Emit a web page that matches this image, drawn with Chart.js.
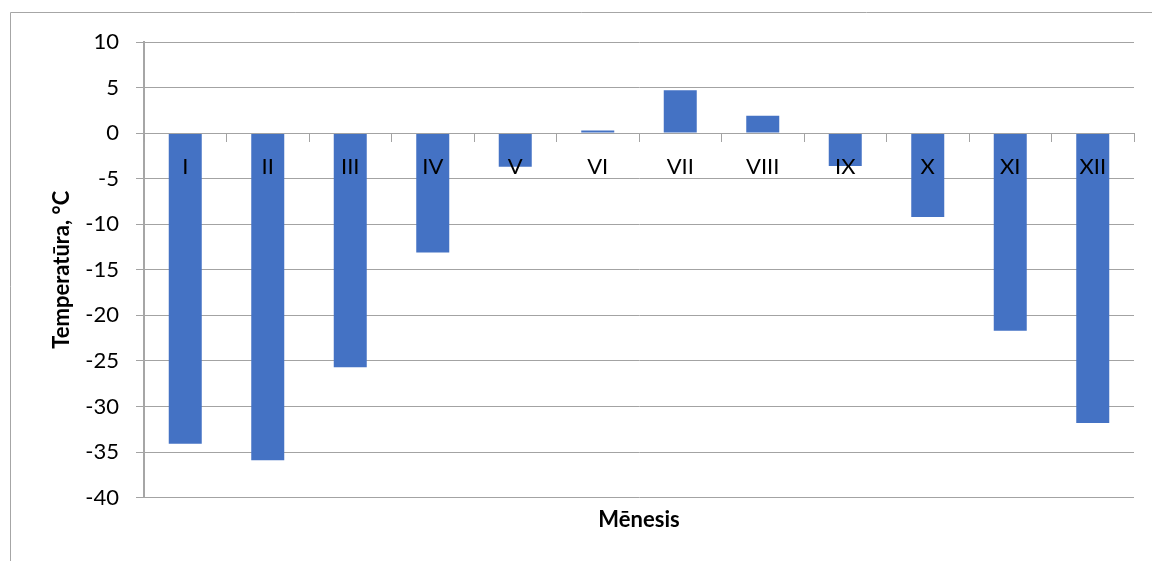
<!DOCTYPE html>
<html>
<head>
<meta charset="utf-8">
<script src="https://cdn.jsdelivr.net/npm/chart.js@4/dist/chart.umd.min.js"></script>
<style>
  html, body { margin: 0; padding: 0; background: #ffffff; }
  #wrap { width: 1152px; height: 561px; position: relative; }
</style>
</head>
<body>
<div id="wrap"><canvas id="chart" width="1152" height="561"></canvas></div>
<script>
// Monthly temperature minimums
const months = ['I', 'II', 'III', 'IV', 'V', 'VI', 'VII', 'VIII', 'IX', 'X', 'XI', 'XII'];
const temperatures = [-34.1, -35.9, -25.7, -13.1, -3.7, 0.3, 4.7, 1.9, -3.6, -9.2, -21.7, -31.8];
const yTickValues = [10, 5, 0, -5, -10, -15, -20, -25, -30, -35, -40];

const xTitle = 'Mēnesis';
const yTitle = 'Temperatūra, °C';

const FONT = 'Lato, "Open Sans", "Liberation Sans", sans-serif';
const GRID = '#a3a3a3';

// Thin frame around the chart object (left and top edges)
const framePlugin = {
  id: 'frame',
  beforeDraw(chart) {
    const ctx = chart.ctx;
    ctx.save();
    ctx.fillStyle = '#ffffff';
    ctx.fillRect(0, 0, chart.width, chart.height);
    ctx.strokeStyle = '#a6a6a6';
    ctx.lineWidth = 1;
    ctx.beginPath();
    ctx.moveTo(10.5, chart.height);
    ctx.lineTo(10.5, 12.5);
    ctx.lineTo(chart.width, 12.5);
    ctx.stroke();
    ctx.restore();
  }
};

new Chart(document.getElementById('chart'), {
  type: 'bar',
  data: {
    labels: months,
    datasets: [{
      data: temperatures,
      backgroundColor: '#4472c4',
      borderWidth: 0,
      barPercentage: 0.4,
      categoryPercentage: 1.0
    }]
  },
  options: {
    responsive: false,
    animation: false,
    devicePixelRatio: 1,
    layout: { padding: { left: 40, right: 18, top: 42, bottom: 28 } },
    plugins: {
      legend: { display: false },
      tooltip: { enabled: false },
      title: {
        display: true,
        text: xTitle,
        position: 'bottom',
        fullSize: false,
        color: '#000000',
        font: { family: FONT, size: 22, weight: 'bold' },
        padding: { top: 9, bottom: 0 }
      }
    },
    scales: {
      x: {
        // category axis crosses at zero; its labels are painted over the bars
        position: { y: 0 },
        offset: true,
        grid: {
          offset: true,
          drawOnChartArea: false,
          drawTicks: true,
          tickLength: 8,
          color: GRID,
          z: 1
        },
        border: { display: true, color: GRID, width: 1, z: 1 },
        ticks: {
          color: '#000000',
          font: { family: FONT, size: 22 },
          padding: 13,
          maxRotation: 0,
          autoSkip: false,
          z: 1
        }
      },
      y: {
        min: -40,
        max: 10,
        afterBuildTicks(scale) {
          scale.ticks = yTickValues.map(v => ({ value: v }));
        },
        afterFit(scale) {
          scale.width = 104;
        },
        grid: {
          color: GRID,
          drawTicks: true,
          tickLength: 8
        },
        border: { display: true, color: '#a6a6a6', width: 2 },
        ticks: {
          color: '#000000',
          font: { family: FONT, size: 22 },
          padding: 17
        },
        title: {
          display: true,
          text: yTitle,
          color: '#000000',
          font: { family: FONT, size: 22, weight: 'bold' },
          padding: { top: 9, bottom: 0 }
        }
      }
    }
  },
  plugins: [framePlugin]
});
</script>
</body>
</html>
